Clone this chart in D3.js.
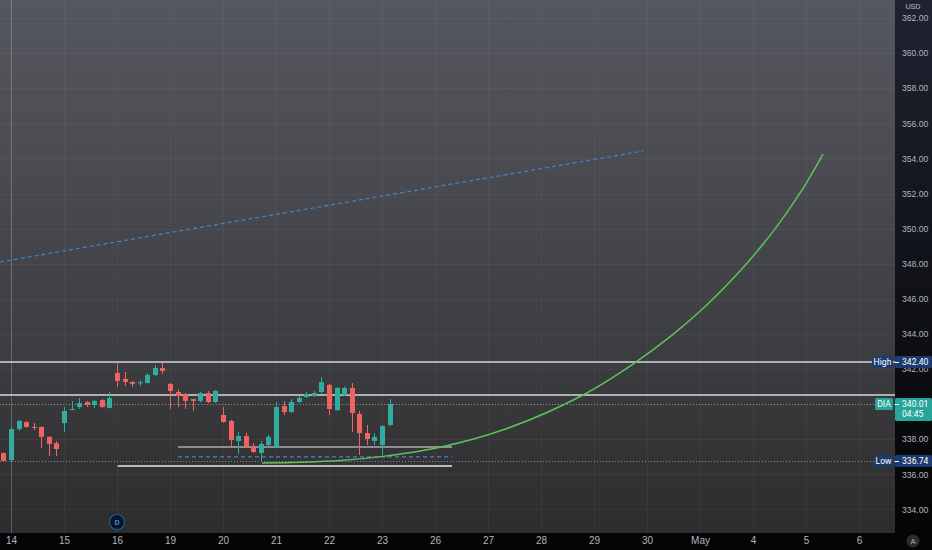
<!DOCTYPE html>
<html>
<head>
<meta charset="utf-8">
<script src="https://cdn.jsdelivr.net/npm/d3@7"></script>
<style>
  html, body { margin: 0; padding: 0; background: #000; overflow: hidden; }
  svg { display: block; font-family: Roboto, "DejaVu Sans", sans-serif; }
</style>
</head>
<body>
<svg id="chart"></svg>
<script>
////////////////////////////////////////////////////////////////////////////////
////////////////////////////////////////////////////////////////// Chart data
////////////////////////////////////////////////////////////////////////////////

// DIA, 1h bars, one label per trading day (7 bars each)
const dayLabels = ["14", "15", "16", "19", "20", "21", "22", "23", "26", "27",
                   "28", "29", "30", "May", "4", "5", "6"];
const barsPerDay = 7;
const firstBar = -1;   // the first candle is the last hour of the 13th

const opens  = [337.21, 336.81, 338.58, 338.98, 338.70, 338.70, 338.13, 337.78,
                338.92, 339.67, 339.83, 340.12, 339.95, 340.23, 339.78,
                341.77, 341.43, 341.26, 341.20, 341.20, 341.66, 342.06,
                341.15, 340.69, 340.58, 340.29, 340.18, 340.63, 340.12,
                339.38, 339.04, 337.90, 338.18, 337.56, 337.21, 337.67,
                337.56, 339.89, 339.55, 340.12, 340.40, 340.46, 340.69,
                341.09, 339.66, 340.52, 340.92, 339.44, 338.35, 337.90,
                337.67, 338.81];
const highs  = [337.25, 338.70, 339.09, 339.04, 338.92, 338.72, 338.18, 337.90,
                339.83, 340.18, 340.35, 340.18, 340.24, 340.30, 340.69,
                342.40, 341.83, 341.32, 341.37, 341.77, 342.23, 342.34,
                341.20, 340.86, 340.63, 340.30, 340.70, 340.75, 340.80,
                339.83, 339.10, 338.41, 338.35, 337.78, 337.90, 338.24,
                340.12, 340.18, 340.29, 340.46, 340.69, 340.75, 341.54,
                341.15, 340.97, 341.00, 341.20, 339.61, 338.81, 338.35,
                338.81, 340.29];
const lows   = [336.72, 336.70, 338.47, 338.64, 338.52, 337.50, 337.04, 337.04,
                338.41, 339.66, 339.72, 339.83, 339.78, 339.80, 339.75,
                340.97, 341.03, 340.97, 341.03, 341.18, 341.60, 341.72,
                339.72, 339.83, 339.72, 339.61, 340.10, 340.06, 340.06,
                338.95, 337.61, 337.16, 337.50, 337.22, 336.74, 337.60,
                337.50, 339.38, 339.50, 340.06, 340.35, 340.40, 340.60,
                339.38, 339.60, 340.46, 338.41, 337.10, 337.67, 337.67,
                337.10, 338.75];
const closes = [336.76, 338.58, 339.04, 338.70, 338.64, 338.13, 337.73, 337.44,
                339.61, 339.72, 340.06, 339.95, 340.18, 339.83, 340.35,
                341.32, 341.26, 341.15, 341.24, 341.66, 342.06, 341.89,
                340.75, 340.46, 340.18, 340.18, 340.63, 340.12, 340.75,
                338.98, 337.95, 338.18, 337.56, 337.27, 337.73, 338.13,
                339.83, 339.55, 340.12, 340.35, 340.58, 340.63, 341.26,
                339.72, 340.92, 340.92, 339.49, 338.35, 338.01, 338.13,
                338.75, 340.01];

// price axis
const priceTicks = d3.range(334, 363, 2);
const highPrice = 342.40;
const lowPrice = 336.74;
const lastPrice = 340.01;
const countdown = "04:45";

// drawings, in [bar index, price]
const levelPrices = [342.40, 340.52];
const dottedPrices = [340.01, 336.74];
const rangeGrey  = [[22.06, 337.56], [58.25, 337.56]];
const rangeBlue  = [[22.06, 336.99], [58.25, 336.99]];
const rangeWhite = [[14.10, 336.47], [58.25, 336.47]];
const trendPoints = [[-1.45, 348.10], [83.50, 354.42]];
const curvePoints = [[33.15, 336.64], [38.17, 336.68], [43.45, 336.78],
                     [49.66, 337.05], [56.66, 337.54], [65.51, 338.61],
                     [75.55, 340.52], [82.15, 342.28], [87.44, 343.97],
                     [91.93, 345.66], [96.28, 347.58], [100.64, 349.83],
                     [104.21, 352.02], [107.25, 354.25]];

////////////////////////////////////////////////////////////////////////////////
////////////////////////////////////////////////////////////////// Layout
////////////////////////////////////////////////////////////////////////////////

const totalWidth = 932;
const totalHeight = 550;
const plotWidth = 895;
const plotHeight = 533;

const upColor = "#30ad9f";
const downColor = "#ef6360";

const svg = d3.select("#chart")
              .attr("width", totalWidth)
              .attr("height", totalHeight);

const defs = svg.append("defs");

const plotGrad = defs.append("linearGradient")
                     .attr("id", "plotGrad")
                     .attr("x1", 0).attr("y1", 0).attr("x2", 0).attr("y2", 1);
plotGrad.selectAll("stop")
  .data([["0%", "#55575e"], ["30%", "#4b4c52"], ["60%", "#3f4044"],
         ["85%", "#343436"], ["100%", "#2d2d2f"]])
  .join("stop")
    .attr("offset", function(d) { return d[0]; })
    .attr("stop-color", function(d) { return d[1]; });

const axisGrad = defs.append("linearGradient")
                     .attr("id", "axisGrad")
                     .attr("x1", 0).attr("y1", 0).attr("x2", 0).attr("y2", 1);
axisGrad.selectAll("stop")
  .data([["0%", "#1f2230"], ["45%", "#12141b"], ["100%", "#050505"]])
  .join("stop")
    .attr("offset", function(d) { return d[0]; })
    .attr("stop-color", function(d) { return d[1]; });

defs.append("clipPath")
    .attr("id", "plotClip")
  .append("rect")
    .attr("width", plotWidth)
    .attr("height", plotHeight);

// backgrounds
svg.append("rect")
     .attr("width", totalWidth)
     .attr("height", totalHeight)
     .attr("fill", "#050505");
svg.append("rect")
     .attr("x", plotWidth)
     .attr("width", totalWidth - plotWidth)
     .attr("height", plotHeight)
     .attr("fill", "url(#axisGrad)");
svg.append("rect")
     .attr("width", plotWidth)
     .attr("height", plotHeight)
     .attr("fill", "url(#plotGrad)");

// scales: x is the bar index, 7.57 px a bar, bar 0 at x = 11
const barStep = 53 / barsPerDay;
const xScale = d3.scaleLinear()
                 .domain([-11 / barStep, (plotWidth - 11) / barStep])
                 .range([0, plotWidth]);
const yScale = d3.scaleLinear()
                 .domain([362 - 515 / 17.55, 362 + 18 / 17.55])
                 .range([plotHeight, 0]);

const dayTicks = dayLabels.map(function(d, i) { return i * barsPerDay; });

const plot = svg.append("g")
                .attr("clip-path", "url(#plotClip)");

// grid
plot.append("g")
  .selectAll("line")
  .data(priceTicks)
  .join("line")
    .attr("x1", 0)
    .attr("x2", plotWidth)
    .attr("y1", function(d) { return Math.round(yScale(d)) + 0.5; })
    .attr("y2", function(d) { return Math.round(yScale(d)) + 0.5; })
    .attr("stroke", "rgba(255,255,255,0.045)");
plot.append("g")
  .selectAll("line")
  .data(dayTicks)
  .join("line")
    .attr("x1", function(d) { return Math.round(xScale(d)) + 0.5; })
    .attr("x2", function(d) { return Math.round(xScale(d)) + 0.5; })
    .attr("y1", 0)
    .attr("y2", plotHeight)
    .attr("stroke", "rgba(255,255,255,0.04)");

// session line on the first day
plot.append("line")
      .attr("x1", Math.round(xScale(dayTicks[0])) + 0.5)
      .attr("x2", Math.round(xScale(dayTicks[0])) + 0.5)
      .attr("y1", 0)
      .attr("y2", plotHeight)
      .attr("stroke", "rgba(255,255,255,0.2)");

const line = d3.line()
               .x(function(d) { return xScale(d[0]); })
               .y(function(d) { return yScale(d[1]); });

// trend line
plot.append("path")
      .attr("d", line(trendPoints))
      .attr("fill", "none")
      .attr("stroke", "#3f86c8")
      .attr("stroke-width", 1.2)
      .attr("stroke-dasharray", "4 3");

// full width levels
plot.append("g")
  .selectAll("line")
  .data(levelPrices)
  .join("line")
    .attr("x1", 0)
    .attr("x2", plotWidth)
    .attr("y1", function(d) { return yScale(d); })
    .attr("y2", function(d) { return yScale(d); })
    .attr("stroke", "#d6d7da")
    .attr("stroke-width", 1.5);

plot.append("g")
  .selectAll("line")
  .data(dottedPrices)
  .join("line")
    .attr("x1", 0)
    .attr("x2", plotWidth)
    .attr("y1", function(d) { return Math.round(yScale(d)) + 0.5; })
    .attr("y2", function(d) { return Math.round(yScale(d)) + 0.5; })
    .attr("stroke", "#8a8c92")
    .attr("stroke-dasharray", "1 2");

// range box lines
plot.append("path")
      .attr("d", line(rangeGrey))
      .attr("stroke", "#a9abb0")
      .attr("stroke-width", 1.5);
plot.append("path")
      .attr("d", line(rangeBlue))
      .attr("stroke", "#3f86c8")
      .attr("stroke-width", 1.3)
      .attr("stroke-dasharray", "4 3");
plot.append("path")
      .attr("d", line(rangeWhite))
      .attr("stroke", "#e6e7ea")
      .attr("stroke-width", 1.5);

// candles
const candles = opens.map(function(o, i) {
  return { bar: firstBar + i, open: o, high: highs[i], low: lows[i], close: closes[i] };
});
const bodyWidth = Math.round(barStep * 0.68);

const candleG = plot.append("g")
  .selectAll("g")
  .data(candles)
  .join("g")
    .attr("fill", function(d) { return d.close >= d.open ? upColor : downColor; })
    .attr("stroke", function(d) { return d.close >= d.open ? upColor : downColor; });

candleG.append("line")
         .attr("x1", function(d) { return Math.round(xScale(d.bar)) + 0.5; })
         .attr("x2", function(d) { return Math.round(xScale(d.bar)) + 0.5; })
         .attr("y1", function(d) { return yScale(d.high); })
         .attr("y2", function(d) { return yScale(d.low); })
         .attr("stroke-width", 1);

candleG.append("rect")
         .attr("stroke", "none")
         .attr("x", function(d) { return Math.round(xScale(d.bar)) + 0.5 - bodyWidth / 2; })
         .attr("width", bodyWidth)
         .attr("y", function(d) { return yScale(Math.max(d.open, d.close)); })
         .attr("height", function(d) {
           return Math.max(1, Math.abs(yScale(d.open) - yScale(d.close)));
         });

// projection curve
plot.append("path")
      .attr("d", d3.line()
                   .curve(d3.curveCatmullRom.alpha(0.5))
                   .x(function(d) { return xScale(d[0]); })
                   .y(function(d) { return yScale(d[1]); })
                   (curvePoints))
      .attr("fill", "none")
      .attr("stroke", "#5cc45a")
      .attr("stroke-width", 1.5);

// interval badge
const badge = svg.append("g")
                 .attr("transform", `translate(${xScale(dayTicks[2])},522)`);
badge.append("circle")
       .attr("r", 7.5)
       .attr("fill", "#0b1420")
       .attr("stroke", "#1f5f9e")
       .attr("stroke-width", 1.2);
badge.append("text")
       .attr("text-anchor", "middle")
       .attr("dy", "0.35em")
       .attr("fill", "#2d8fe6")
       .style("font-size", "8px")
       .style("font-weight", "bold")
       .text("D");

////////////////////////////////////////////////////////////////////////////////
////////////////////////////////////////////////////////////////// Axes
////////////////////////////////////////////////////////////////////////////////

const yAxis = d3.axisRight(yScale)
                .tickValues(priceTicks.filter(function(d) { return d !== 340; }))
                .tickFormat(d3.format(".2f"))
                .tickSize(0)
                .tickPadding(7);
svg.append("g")
     .attr("class", "yAxis")
     .attr("transform", `translate(${plotWidth},0)`)
     .call(yAxis)
     .call(function(g) { g.select(".domain").remove(); })
     .selectAll("text")
       .attr("fill", "#b2b5be")
       .style("font-size", "8.6px");

svg.append("text")
     .attr("x", 913)
     .attr("y", 9)
     .attr("text-anchor", "middle")
     .attr("fill", "#b2b5be")
     .style("font-size", "8px")
     .text("USD");

const xAxis = d3.axisBottom(xScale)
                .tickValues(dayTicks)
                .tickFormat(function(d, i) { return dayLabels[i]; })
                .tickSize(0)
                .tickPadding(4);
svg.append("g")
     .attr("class", "xAxis")
     .attr("transform", `translate(0,${plotHeight})`)
     .call(xAxis)
     .call(function(g) { g.select(".domain").remove(); })
     .selectAll("text")
       .attr("fill", "#b2b5be")
       .style("font-size", "10px");

// auto scale button
svg.append("circle")
     .attr("cx", 913)
     .attr("cy", 541)
     .attr("r", 6.5)
     .attr("fill", "#2a2c33");
svg.append("text")
     .attr("x", 913)
     .attr("y", 541)
     .attr("dy", "0.35em")
     .attr("text-anchor", "middle")
     .attr("fill", "#b2b5be")
     .style("font-size", "8px")
     .text("A");

// price labels on the axis
function drawPriceLabel(price, name, color, nameWidth, extra) {
  const y = Math.round(yScale(price));
  const boxH = extra ? 23 : 12;
  const g = svg.append("g");
  g.append("rect")
     .attr("x", plotWidth - 2 - nameWidth)
     .attr("y", y - 6)
     .attr("width", nameWidth)
     .attr("height", 12)
     .attr("rx", 1.5)
     .attr("fill", color);
  g.append("text")
     .attr("x", plotWidth - 2 - nameWidth / 2)
     .attr("y", y)
     .attr("dy", "0.35em")
     .attr("text-anchor", "middle")
     .attr("fill", "#ffffff")
     .style("font-size", "8.6px")
     .text(name);
  g.append("rect")
     .attr("x", plotWidth)
     .attr("y", y - 6)
     .attr("width", totalWidth - plotWidth)
     .attr("height", boxH)
     .attr("rx", 1.5)
     .attr("fill", color);
  g.append("line")
     .attr("x1", plotWidth)
     .attr("x2", plotWidth + 4)
     .attr("y1", y + 0.5)
     .attr("y2", y + 0.5)
     .attr("stroke", "#ffffff");
  g.append("text")
     .attr("x", plotWidth + 7)
     .attr("y", y)
     .attr("dy", "0.35em")
     .attr("fill", "#ffffff")
     .style("font-size", "8.6px")
     .text(d3.format(".2f")(price));
  if (extra) {
    g.append("text")
       .attr("x", plotWidth + 7)
       .attr("y", y + 10)
       .attr("dy", "0.35em")
       .attr("fill", "#ffffff")
       .style("font-size", "8.6px")
       .text(extra);
  }
}

drawPriceLabel(highPrice, "High", "#1d3b6e", 21, null);
drawPriceLabel(lastPrice, "DIA", "#26a69a", 18, countdown);
drawPriceLabel(lowPrice, "Low", "#1d3b6e", 19, null);
</script>
</body>
</html>
